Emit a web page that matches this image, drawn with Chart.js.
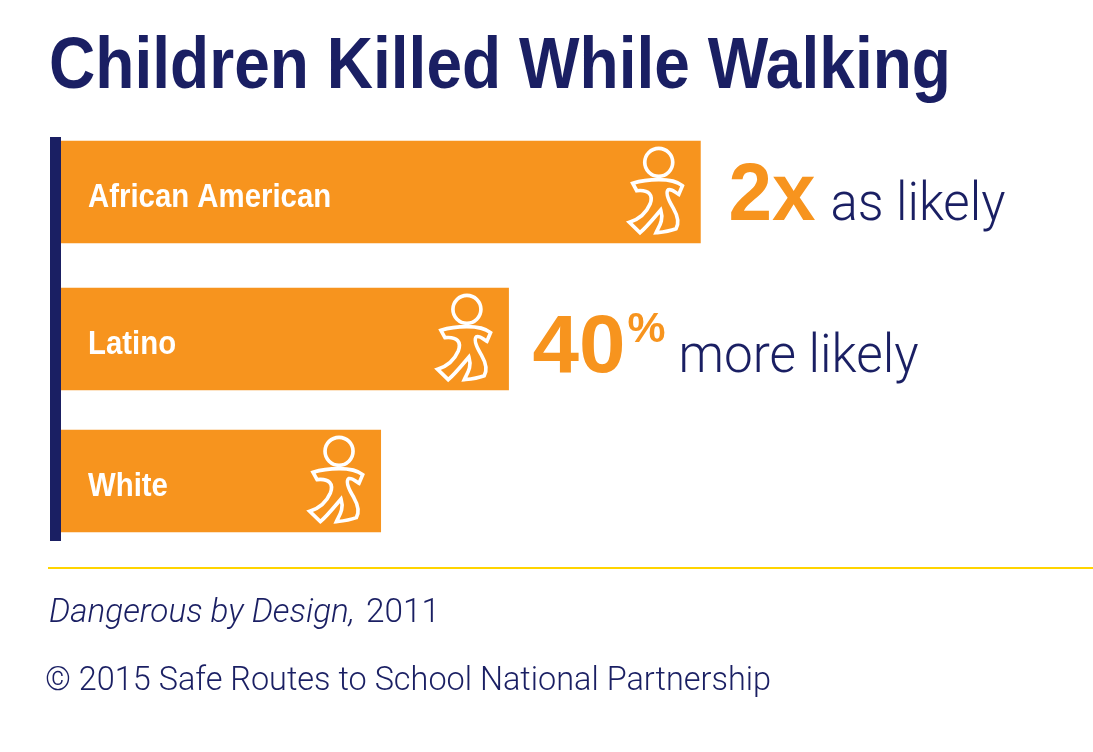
<!DOCTYPE html>
<html><head><meta charset="utf-8">
<style>html,body{margin:0;padding:0;background:#fff}#wrap{position:relative;width:1093px;height:752px}</style>
<script src="https://cdn.jsdelivr.net/npm/chart.js@4"></script>
</head><body><div id="wrap"><canvas id="c" width="1093" height="752"></canvas></div>
<script>
const categories = ['African American', 'Latino', 'White'];
const relativeRisk = [2, 1.4, 1];
const chartTitle = 'Children Killed While Walking';
const calloutBig = ['2x', '40', ''];
const calloutSup = ['', '%', ''];
const calloutText = ['as likely', 'more likely', ''];
const sourceItalic = 'Dangerous by Design,';
const sourcePlain = '2011';
const copyright = '© 2015 Safe Routes to School National Partnership';

const NAVY = '#1a1f63', ORANGE = '#f7941e', YELLOW = '#ffd400';
const BOLD = '"Liberation Sans",sans-serif';
const LIGHT = 'Roboto,"Liberation Sans",sans-serif';
const rowNudge = [-12.3, 0, 7.3];
const LABEL_SQUEEZE = 0.89;

class RowScale extends Chart.CategoryScale {
  getPixelForValue(v, i) {
    const idx = typeof v === 'number' ? v : this.parse(v);
    return super.getPixelForValue(v, i) + (rowNudge[Math.round(idx)] || 0);
  }
  drawLabels(area) {
    const c = this.ctx, x0 = this.right + this.options.ticks.padding;
    c.save();
    c.translate(x0, 0); c.scale(LABEL_SQUEEZE, 1); c.translate(-x0, 0);
    super.drawLabels(area);
    c.restore();
  }
}
RowScale.id = 'rowCategory';
RowScale.defaults = Chart.CategoryScale.defaults;
Chart.register(RowScale);

function fit(ctx, text, x, base, width, font, color) {
  ctx.save();
  ctx.font = font; ctx.fillStyle = color; ctx.textAlign = 'left'; ctx.textBaseline = 'alphabetic';
  const w = ctx.measureText(text).width;
  ctx.translate(x, base); ctx.scale(width / w, 1);
  ctx.fillText(text, 0, 0);
  ctx.restore();
}

const WALKER = new Path2D('M100 160 C128 151 150 149 178 149 C205 149 232 153 249 167 L238 193 C228 188 218 176 207 179 C196 188 208 212 222 235 C234 256 240 278 230 296 C205 305 190 306 170 308 C178 290 194 272 184 240 C165 262 143 290 122 308 L90 277 C118 268 140 250 152 222 C162 196 150 178 112 182 Z');

const annotate = {
  id: 'annotate',
  beforeDatasetsDraw(chart) {
    const ctx = chart.ctx, a = chart.chartArea;
    ctx.save();
    ctx.fillStyle = NAVY;
    ctx.fillRect(a.left - 11, a.top, 11, a.bottom - a.top);
    ctx.restore();
  },
  afterDraw(chart) {
    const ctx = chart.ctx;
    const bars = chart.getDatasetMeta(0).data;
    fit(ctx, chartTitle, 49, 88, 902, 'bold 72px ' + BOLD, NAVY);
    bars.forEach((b) => {
      ctx.save();
      ctx.translate(b.x - 101, b.y - 62);
      ctx.scale(1 / 3, 1 / 3);
      ctx.strokeStyle = '#fff'; ctx.lineWidth = 11; ctx.lineJoin = 'miter';
      ctx.beginPath(); ctx.arc(178, 97, 42, 0, Math.PI * 2); ctx.stroke();
      ctx.stroke(WALKER);
      ctx.restore();
    });
    fit(ctx, calloutBig[0], bars[0].x + 28, 220, 87, 'bold 82px ' + BOLD, ORANGE);
    fit(ctx, calloutText[0], bars[0].x + 130, 220, 175, '300 54px ' + LIGHT, NAVY);
    fit(ctx, calloutBig[1], bars[1].x + 24, 372, 93, 'bold 82px ' + BOLD, ORANGE);
    fit(ctx, calloutSup[1], bars[1].x + 119, 342, 38, 'bold 42px ' + BOLD, ORANGE);
    fit(ctx, calloutText[1], bars[1].x + 170, 372, 240, '300 54px ' + LIGHT, NAVY);
    ctx.fillStyle = YELLOW;
    ctx.fillRect(48, 567, 1045, 2);
    fit(ctx, sourceItalic, 49, 622, 306, 'italic 300 33px ' + LIGHT, NAVY);
    fit(ctx, sourcePlain, 366, 622, 74, '300 33px ' + LIGHT, NAVY);
    fit(ctx, copyright, 45, 690, 726, '300 33px ' + LIGHT, NAVY);
  }
};

new Chart(document.getElementById('c'), {
  type: 'bar',
  data: { labels: categories, datasets: [{ data: relativeRisk, backgroundColor: ORANGE, barThickness: 102, borderWidth: 0 }] },
  plugins: [annotate],
  options: {
    indexAxis: 'y', responsive: false, animation: false,
    layout: { padding: { left: 7, top: 137, right: 0, bottom: 211 } },
    plugins: { legend: { display: false }, title: { display: false }, tooltip: { enabled: false } },
    scales: {
      x: { display: false, min: 0, max: 3.228, grid: { display: false } },
      y: { type: 'rowCategory', grid: { display: false, drawTicks: false }, border: { display: false },
        ticks: { mirror: true, z: 1, padding: 27, labelOffset: 6, color: '#fff', font: { family: BOLD, weight: 'bold', size: 33 } } }
    }
  }
});
</script></body></html>
